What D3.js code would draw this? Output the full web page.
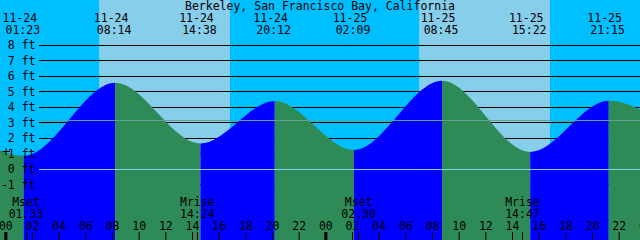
<!DOCTYPE html>
<html>
<head>
<meta charset="utf-8">
<script src="https://cdn.jsdelivr.net/npm/d3@7"></script>
<style>
html, body { margin: 0; padding: 0; background: #00bfff; }
svg { display: block; }
text { font-family: "DejaVu Sans Mono", monospace; font-size: 11.5px; fill: #000; }
</style>
</head>
<body>
<svg id="chart" width="640" height="240"></svg>
<script>
const title = "Berkeley, San Francisco Bay, California";

// tide extremes, first and last sit just outside the visible window
const tideTimes = ["2023-11-23T19:15", "2023-11-24T01:23", "2023-11-24T08:14", "2023-11-24T14:38", "2023-11-24T20:12",
    "2023-11-25T02:09", "2023-11-25T08:45", "2023-11-25T15:22", "2023-11-25T21:15", "2023-11-26T03:20"];
const tideHeights = [4.0, 0.85, 5.57, 1.65, 4.39, 1.23, 5.70, 1.10, 4.40, 1.45];
const tideDates = ["11-23", "11-24", "11-24", "11-24", "11-24", "11-25", "11-25", "11-25", "11-25", "11-26"];
const tideClock = ["19:15", "01:23", "08:14", "14:38", "20:12", "02:09", "08:45", "15:22", "21:15", "03:20"];

const sunRise = ["2023-11-24T07:02", "2023-11-25T07:02"];
const sunSet = ["2023-11-24T16:51", "2023-11-25T16:51"];

const moonTimes = ["2023-11-24T01:33", "2023-11-24T14:24", "2023-11-25T02:30", "2023-11-25T14:47"];
const moonNames = ["Mset", "Mrise", "Mset", "Mrise"];
const moonClock = ["01:33", "14:24", "02:30", "14:47"];

const ftLevels = [-1, 0, 1, 2, 3, 4, 5, 6, 7, 8];
const meanLevel = 3.15;

const W = 640, H = 240;
const parse = d3.utcParse("%Y-%m-%dT%H:%M");
const svg = d3.select("#chart");

const x = d3.scaleUtc().domain([parse("2023-11-23T23:36"), parse("2023-11-25T23:36")]).range([0, W]);
const y = d3.scaleLinear().domain([-1, 8]).range([184.5, 45]);

const tides = tideTimes.map((t, i) => ({ t: parse(t), h: tideHeights[i], date: tideDates[i], clock: tideClock[i] }));
const visible = tides.filter(d => d.t >= x.domain()[0] && d.t <= x.domain()[1]);

// sky: night then daylight bands
svg.append("rect").attr("width", W).attr("height", H).attr("fill", "#00bfff");
svg.append("g").selectAll("rect").data(sunRise).join("rect")
    .attr("x", d => x(parse(d))).attr("y", 0)
    .attr("width", (d, i) => x(parse(sunSet[i])) - x(parse(d))).attr("height", H)
    .attr("fill", "#87ceeb");

// height lines (under the water)
svg.append("g").attr("shape-rendering", "crispEdges").selectAll("line").data(ftLevels).join("line")
    .attr("x1", 39).attr("x2", W).attr("y1", d => y(d)).attr("y2", d => y(d))
    .attr("stroke", "#000").attr("stroke-width", 1);

// water
const area = d3.area().x(d => x(d.t)).y0(H).y1(d => y(d.h)).curve(d3.curveMonotoneX);
svg.append("clipPath").attr("id", "water").append("path").attr("d", area(tides));
svg.append("g").attr("clip-path", "url(#water)").selectAll("rect").data(d3.pairs(tides)).join("rect")
    .attr("x", d => x(d[0].t)).attr("y", 0)
    .attr("width", d => x(d[1].t) - x(d[0].t)).attr("height", H)
    .attr("fill", d => d[1].h > d[0].h ? "#0000ff" : "#2e8b57");

// datum and mean lines over water
svg.append("line").attr("x1", 39).attr("x2", W).attr("y1", y(meanLevel)).attr("y2", y(meanLevel))
    .attr("stroke", "#5fa090").attr("stroke-width", 1).attr("shape-rendering", "crispEdges");
svg.append("line").attr("x1", 39).attr("x2", W).attr("y1", y(0)).attr("y2", y(0))
    .attr("stroke", "#87ceeb").attr("stroke-width", 1).attr("shape-rendering", "crispEdges");

// height labels
svg.append("g").selectAll("text").data(ftLevels).join("text")
    .attr("x", 35.5).attr("y", d => y(d) + 4).attr("text-anchor", "end")
    .text(d => d + " ft");
svg.append("path").attr("d", "M2.5,151.5H10M6,148V155").attr("stroke", "#000").attr("fill", "none");

// title and extreme labels
svg.append("text").attr("x", W / 2).attr("y", 10).attr("text-anchor", "middle").text(title);
const extremeLabels = svg.append("g").selectAll("g").data(visible).join("g");
extremeLabels.append("text").attr("x", d => x(d.t) - 4).attr("y", 21.5).attr("text-anchor", "middle").text(d => d.date);
extremeLabels.append("text").attr("x", d => x(d.t) - 1).attr("y", 34).attr("text-anchor", "middle").text(d => d.clock);

// hour axis along the bottom
const hourTicks = d3.utcHour.every(2).range(parse("2023-11-24T00:00"), parse("2023-11-26T00:30"));
const axis = d3.axisTop(x).tickValues(hourTicks).tickFormat(d3.utcFormat("%H")).tickSize(8).tickPadding(2);
const ga = svg.append("g").attr("transform", `translate(0,${H})`).call(axis);
ga.select(".domain").remove();
ga.selectAll(".tick").filter(d => d.getUTCHours() === 0).select("line").attr("stroke-width", 3);

// moon events
const moon = svg.append("g").selectAll("g").data(moonTimes).join("g");
moon.append("line").attr("x1", d => x(parse(d))).attr("x2", d => x(parse(d)))
    .attr("y1", 232).attr("y2", H).attr("stroke", "#000").attr("shape-rendering", "crispEdges");
moon.append("text").attr("x", d => x(parse(d))).attr("y", 206).attr("text-anchor", "middle").text((d, i) => moonNames[i]);
moon.append("text").attr("x", d => x(parse(d))).attr("y", 217.5).attr("text-anchor", "middle").text((d, i) => moonClock[i]);
</script>
</body>
</html>
